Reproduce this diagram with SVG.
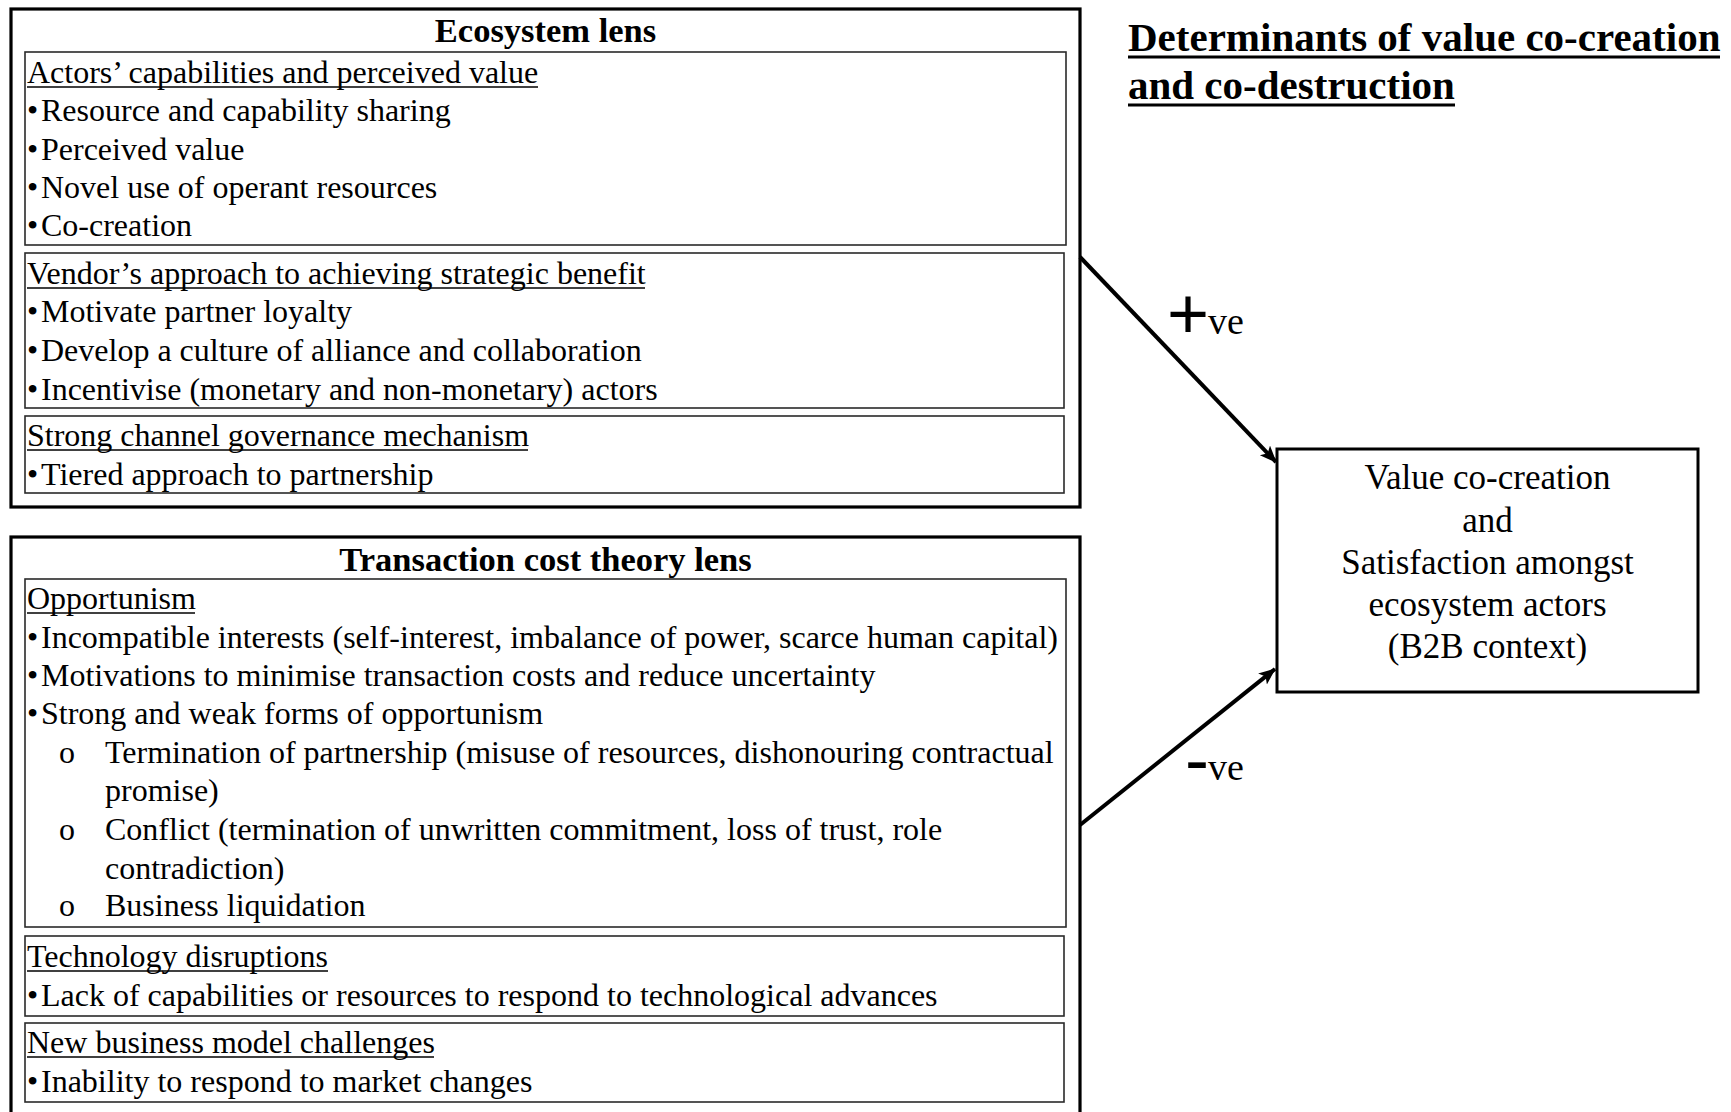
<svg xmlns="http://www.w3.org/2000/svg" width="1731" height="1112" viewBox="0 0 1731 1112">
  <defs>
    <style>
      .outer { fill: #ffffff; stroke: #000000; stroke-width: 3.2; }
      .inner { fill: none; stroke: #2a2a2a; stroke-width: 1.6; }
      .box { fill: #ffffff; stroke: #000000; stroke-width: 3; }
      .t { font-family: "Liberation Serif", "Times New Roman", serif; font-size: 32px; fill: #000; }
      .title { font-family: "Liberation Serif", "Times New Roman", serif; font-size: 34.5px; font-weight: bold; fill: #000; text-anchor: middle; }
      .main { font-family: "Liberation Serif", "Times New Roman", serif; font-size: 41px; font-weight: bold; fill: #000; }
      .res { font-family: "Liberation Serif", "Times New Roman", serif; font-size: 35px; fill: #000; text-anchor: middle; }
      .ul { stroke: #000; stroke-width: 1.6; }
      .ulb { stroke: #000; stroke-width: 3.2; }
      .conn { stroke: #000; stroke-width: 4; fill: none; }
      .lbl { font-family: "Liberation Serif", "Times New Roman", serif; font-size: 38px; fill: #000; }
      .sign { font-family: "Liberation Sans", Arial, sans-serif; fill: #000; }
    </style>
    <marker id="arrow" markerUnits="userSpaceOnUse" markerWidth="20" markerHeight="16" refX="16" refY="7" orient="auto">
      <path d="M0,0 L17,7 L0,14 L4,7 Z" fill="#000"/>
    </marker>
  </defs>

  <rect x="0" y="0" width="1731" height="1112" fill="#ffffff"/>

  <g id="ecosystem-lens">
    <rect class="outer" x="11" y="9" width="1069" height="498"/>
    <text class="title" x="545.5" y="42">Ecosystem lens</text>
    <g id="eco-actors">
      <rect class="inner" x="25" y="52" width="1041" height="193"/>
      <text class="t" x="27" y="83">Actors’ capabilities and perceived value</text>
      <line class="ul" x1="27" y1="87" x2="538" y2="87"/>
      <text class="t" y="121"><tspan x="27">•</tspan><tspan x="41">Resource and capability sharing</tspan></text>
      <text class="t" y="160"><tspan x="27">•</tspan><tspan x="41">Perceived value</tspan></text>
      <text class="t" y="198"><tspan x="27">•</tspan><tspan x="41">Novel use of operant resources</tspan></text>
      <text class="t" y="236"><tspan x="27">•</tspan><tspan x="41">Co-creation</tspan></text>
    </g>
    <g id="eco-vendor">
      <rect class="inner" x="25" y="253" width="1039" height="155"/>
      <text class="t" x="27" y="284">Vendor’s approach to achieving strategic benefit</text>
      <line class="ul" x1="27" y1="288" x2="645" y2="288"/>
      <text class="t" y="322"><tspan x="27">•</tspan><tspan x="41">Motivate partner loyalty</tspan></text>
      <text class="t" y="361"><tspan x="27">•</tspan><tspan x="41">Develop a culture of alliance and collaboration</tspan></text>
      <text class="t" y="400"><tspan x="27">•</tspan><tspan x="41">Incentivise (monetary and non-monetary) actors</tspan></text>
    </g>
    <g id="eco-governance">
      <rect class="inner" x="25" y="416" width="1039" height="77"/>
      <text class="t" x="27" y="446">Strong channel governance mechanism</text>
      <line class="ul" x1="27" y1="450" x2="528" y2="450"/>
      <text class="t" y="485"><tspan x="27">•</tspan><tspan x="41">Tiered approach to partnership</tspan></text>
    </g>
  </g>

  <g id="tct-lens">
    <rect class="outer" x="11" y="537" width="1069" height="590"/>
    <text class="title" x="545.5" y="571">Transaction cost theory lens</text>
    <g id="tct-opportunism">
      <rect class="inner" x="25" y="579" width="1041" height="348"/>
      <text class="t" x="27" y="609">Opportunism</text>
      <line class="ul" x1="27" y1="613" x2="195" y2="613"/>
      <text class="t" y="648"><tspan x="27">•</tspan><tspan x="41">Incompatible interests (self-interest, imbalance of power, scarce human capital)</tspan></text>
      <text class="t" y="686"><tspan x="27">•</tspan><tspan x="41">Motivations to minimise transaction costs and reduce uncertainty</tspan></text>
      <text class="t" y="724"><tspan x="27">•</tspan><tspan x="41">Strong and weak forms of opportunism</tspan></text>
      <text class="t" y="763"><tspan x="59">o</tspan><tspan x="105">Termination of partnership (misuse of resources, dishonouring contractual</tspan></text>
      <text class="t" x="105" y="801">promise)</text>
      <text class="t" y="840"><tspan x="59">o</tspan><tspan x="105">Conflict (termination of unwritten commitment, loss of trust, role</tspan></text>
      <text class="t" x="105" y="879">contradiction)</text>
      <text class="t" y="916"><tspan x="59">o</tspan><tspan x="105">Business liquidation</tspan></text>
    </g>
    <g id="tct-technology">
      <rect class="inner" x="25" y="936" width="1039" height="80"/>
      <text class="t" x="27" y="967">Technology disruptions</text>
      <line class="ul" x1="27" y1="971" x2="328" y2="971"/>
      <text class="t" y="1006"><tspan x="27">•</tspan><tspan x="41">Lack of capabilities or resources to respond to technological advances</tspan></text>
    </g>
    <g id="tct-business-model">
      <rect class="inner" x="25" y="1023" width="1039" height="79"/>
      <text class="t" x="27" y="1053">New business model challenges</text>
      <line class="ul" x1="27" y1="1057" x2="434" y2="1057"/>
      <text class="t" y="1092"><tspan x="27">•</tspan><tspan x="41">Inability to respond to market changes</tspan></text>
    </g>
  </g>

  <g id="heading">
    <text class="main" x="1128" y="51">Determinants of value co-creation</text>
    <line class="ulb" x1="1128" y1="57" x2="1720" y2="57"/>
    <text class="main" x="1128" y="99">and co-destruction</text>
    <line class="ulb" x1="1128" y1="105" x2="1455" y2="105"/>
  </g>

  <g id="outcome">
    <rect class="box" x="1277" y="449" width="421" height="243"/>
    <text class="res" x="1487.5" y="489">Value co-creation</text>
    <text class="res" x="1487.5" y="532">and</text>
    <text class="res" x="1487.5" y="574">Satisfaction amongst</text>
    <text class="res" x="1487.5" y="616">ecosystem actors</text>
    <text class="res" x="1487.5" y="658">(B2B context)</text>
  </g>

  <g id="connectors">
    <line class="conn" x1="1080" y1="257" x2="1276" y2="462" marker-end="url(#arrow)"/>
    <line class="conn" x1="1080" y1="825" x2="1275" y2="669" marker-end="url(#arrow)"/>
    <text class="lbl" y="334"><tspan class="sign" x="1167" y="338" font-size="72">+</tspan><tspan x="1208" y="334">ve</tspan></text>
    <text class="lbl" y="780"><tspan class="sign" x="1185" y="784" font-size="72">-</tspan><tspan x="1208" y="780">ve</tspan></text>
  </g>
</svg>
